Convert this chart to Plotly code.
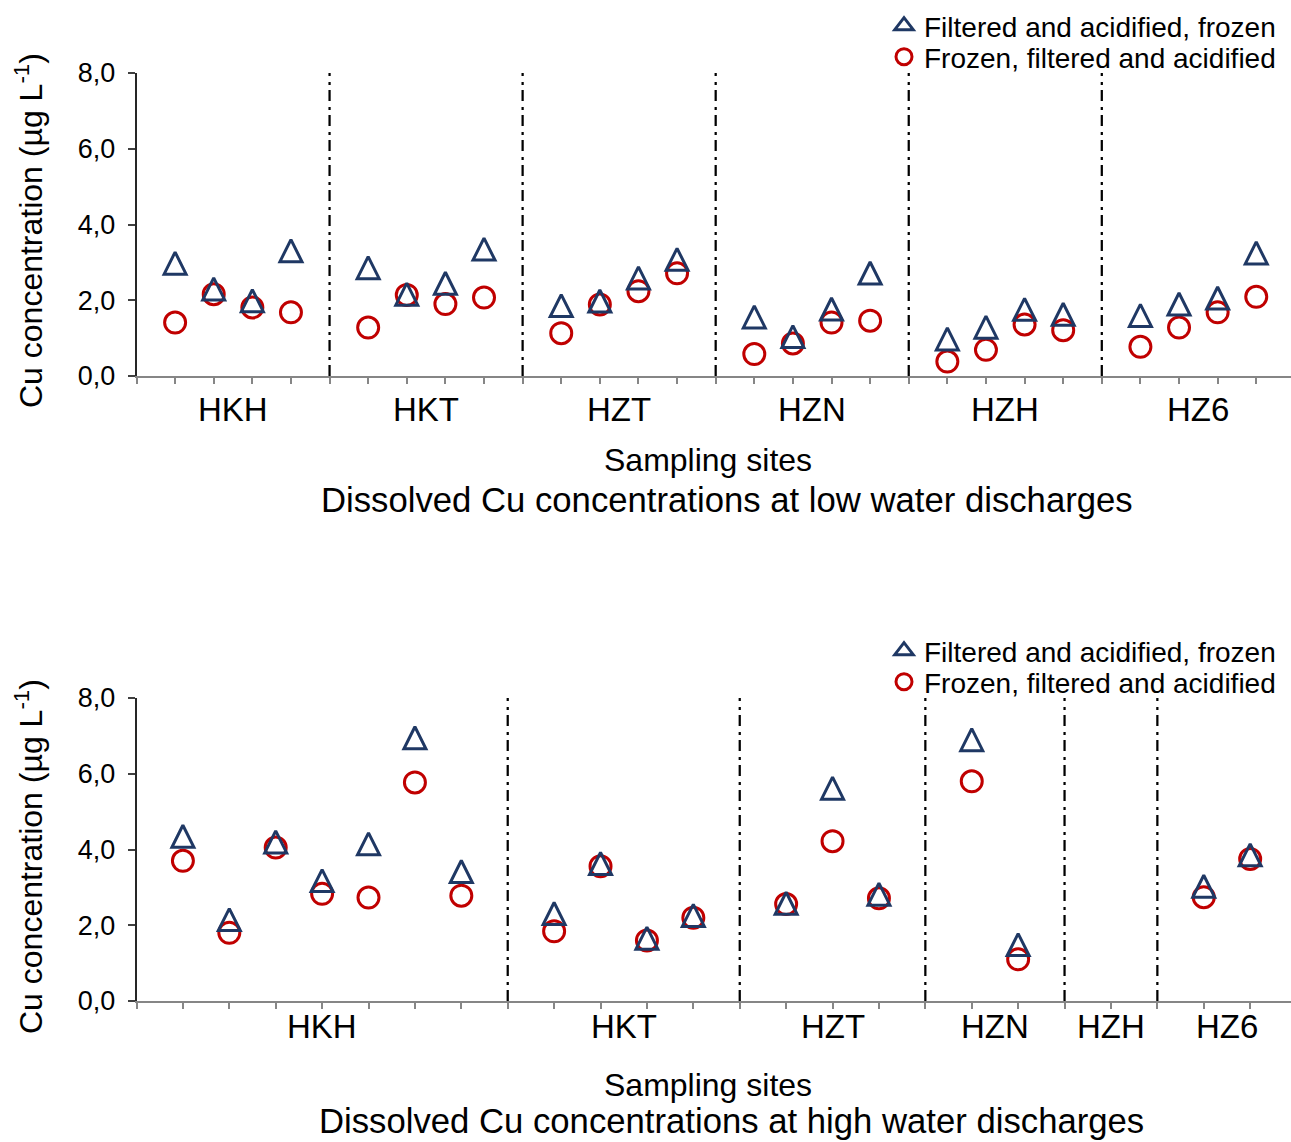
import plotly.graph_objects as go

# ---------------- data ----------------
sites = ["HKH", "HKT", "HZT", "HZN", "HZH", "HZ6"]
series_names = ["Filtered and acidified, frozen", "Frozen, filtered and acidified"]

# low water discharges (µg/L), per site
low_filtered_first = [[2.98, 2.30, 1.99, 3.31], [2.86, 2.16, 2.45, 3.35], [1.86, 1.98, 2.59, 3.08],
                      [1.56, 1.04, 1.77, 2.72], [0.98, 1.29, 1.76, 1.63], [1.60, 1.90, 2.06, 3.25]]
low_frozen_first = [[1.41, 2.16, 1.81, 1.68], [1.28, 2.14, 1.90, 2.07], [1.13, 1.89, 2.24, 2.71],
                    [0.58, 0.86, 1.41, 1.46], [0.38, 0.69, 1.36, 1.21], [0.77, 1.28, 1.68, 2.09]]

# high water discharges (µg/L), per site (HZH: one empty slot)
high_filtered_first = [[4.35, 2.15, 4.20, 3.18, 4.15, 6.95, 3.42], [2.31, 3.63, 1.66, 2.26],
                       [2.58, 5.62, 2.82], [6.90, 1.49], [None], [3.03, 3.86]]
high_frozen_first = [[3.70, 1.80, 4.05, 2.83, 2.73, 5.77, 2.78], [1.84, 3.56, 1.60, 2.20],
                     [2.56, 4.22, 2.71], [5.80, 1.10], [None], [2.74, 3.75]]

y_tickvals = [0, 2, 4, 6, 8]
y_ticktext = ["0,0", "2,0", "4,0", "6,0", "8,0"]

# ---------------- styling ----------------
W, H = 1291, 1142
FONT = "Liberation Sans, Arial, sans-serif"
NAVY = "#1F3864"
RED = "#C00000"
TRI_SIZE = 22
CIRC_SIZE = 21


def px_y(p):
    return 1 - p / H


def layout_groups(groups):
    xs, centers, dividers = [], [], []
    off = 0
    for g in groups:
        n = len(g)
        xs += [off + i + 1 for i in range(n)]
        centers.append(off + (n + 1) / 2)
        dividers.append(off + n + 1)
        off += n + 1
    return xs, centers, dividers[:-1], off


def flat(groups):
    return [v for g in groups for v in g]


fig = go.Figure()

panels = [
    dict(fa=low_filtered_first, ff=low_frozen_first, xa="x", ya="y", ya_tri="y3",
         top=73, bottom=376, xmax=29.9,
         lab_y=409, ss_y=460, title_y=500, title_x=727, ytitle_y=231,
         leg=("legend", "legend2"), leg_y=(27, 58),
         title="Dissolved Cu concentrations at low water discharges"),
    dict(fa=high_filtered_first, ff=high_frozen_first, xa="x2", ya="y2", ya_tri="y4",
         top=698, bottom=1001, xmax=24.88,
         lab_y=1026, ss_y=1085, title_y=1121, title_x=731, ytitle_y=857,
         leg=("legend3", "legend4"), leg_y=(652, 683),
         title="Dissolved Cu concentrations at high water discharges"),
]

X0 = 136.5 / W
shapes = []
annotations = []
layout_axes = {}

for k, p in enumerate(panels):
    xs, centers, dividers, _ = layout_groups(p["fa"])
    fa = flat(p["fa"])
    ff = flat(p["ff"])
    leg_a, leg_b = p["leg"]

    # triangles (drawn on an overlay axis so the triangle's centre sits on the value)
    fig.add_trace(go.Scatter(x=xs, y=fa, mode="markers", xaxis=p["xa"], yaxis=p["ya_tri"],
                             marker=dict(symbol="arrow-up-open", size=TRI_SIZE, color=NAVY,
                                         line=dict(color=NAVY, width=3)),
                             showlegend=False, hoverinfo="skip"))
    fig.add_trace(go.Scatter(x=xs, y=ff, mode="markers", xaxis=p["xa"], yaxis=p["ya"],
                             marker=dict(symbol="circle-open", size=CIRC_SIZE, color=RED,
                                         line=dict(color=RED, width=3)),
                             showlegend=False, hoverinfo="skip"))
    # legend entries
    fig.add_trace(go.Scatter(x=[None], y=[None], mode="markers", xaxis=p["xa"], yaxis=p["ya"],
                             name=series_names[0], legend=leg_a,
                             marker=dict(symbol="triangle-up-open", size=16, color=NAVY,
                                         line=dict(color=NAVY, width=3))))
    fig.add_trace(go.Scatter(x=[None], y=[None], mode="markers", xaxis=p["xa"], yaxis=p["ya"],
                             name=series_names[1], legend=leg_b,
                             marker=dict(symbol="circle-open", size=16, color=RED,
                                         line=dict(color=RED, width=3))))

    for d in dividers:
        shapes.append(dict(type="line", xref=p["xa"], yref=p["ya"], x0=d, x1=d, y0=0, y1=8,
                           line=dict(color="black", width=2.25, dash="11px,5px,3px,6px")))

    for s, c in zip(sites, centers):
        annotations.append(dict(text=s, x=c, xref=p["xa"], y=px_y(p["lab_y"]), yref="paper",
                                showarrow=False, xanchor="center", yanchor="middle",
                                font=dict(size=33, color="black", family=FONT)))
    annotations.append(dict(text="Sampling sites", x=708 / W, xref="paper", y=px_y(p["ss_y"]),
                            yref="paper", showarrow=False, xanchor="center", yanchor="middle",
                            font=dict(size=32, color="black", family=FONT)))
    annotations.append(dict(text=p["title"], x=p["title_x"] / W, xref="paper", y=px_y(p["title_y"]),
                            yref="paper", showarrow=False, xanchor="center", yanchor="middle",
                            font=dict(size=34.7, color="black", family=FONT)))
    annotations.append(dict(text="Cu concentration (µg L<sup>-1</sup>)", x=29 / W, xref="paper",
                            y=px_y(p["ytitle_y"]), yref="paper", showarrow=False, textangle=-90,
                            xanchor="center", yanchor="middle",
                            font=dict(size=32, color="black", family=FONT)))

    ydom = [px_y(p["bottom"]), px_y(p["top"])]
    plot_h = p["bottom"] - p["top"]
    off = (TRI_SIZE / 2) / (plot_h / 8)
    xname = "xaxis" if k == 0 else "xaxis2"
    yname = "yaxis" if k == 0 else "yaxis2"
    ytri = "yaxis3" if k == 0 else "yaxis4"
    layout_axes[xname] = dict(domain=[X0, 1], range=[0, p["xmax"]], anchor=p["ya"],
                              tickmode="linear", tick0=0, dtick=1, ticks="outside", ticklen=6,
                              tickwidth=1.5, tickcolor="#868686", showticklabels=False,
                              showline=True, linecolor="#868686", linewidth=2,
                              showgrid=False, zeroline=False, automargin=False)
    layout_axes[yname] = dict(domain=ydom, range=[0, 8], anchor=p["xa"],
                              tickmode="array", tickvals=y_tickvals, ticktext=y_ticktext,
                              ticks="outside", ticklen=7, tickwidth=1.5, tickcolor="#404040",
                              ticklabelstandoff=7,
                              tickfont=dict(size=27, color="black", family=FONT),
                              showline=True, linecolor="#262626", linewidth=1.5,
                              showgrid=False, zeroline=False, automargin=False)
    layout_axes[ytri] = dict(overlaying=p["ya"], range=[-off, 8 - off], visible=False,
                             anchor=p["xa"], automargin=False)

    for name, yy in zip((leg_a, leg_b), p["leg_y"]):
        layout_axes[name] = dict(x=884 / W, xanchor="left", y=px_y(yy - 26), yanchor="top",
                                 font=dict(size=28, color="black", family=FONT),
                                 bgcolor="rgba(0,0,0,0)", borderwidth=0, itemwidth=30)

fig.update_layout(
    template="none",
    width=W, height=H, autosize=False,
    margin=dict(l=0, r=0, t=0, b=0, pad=0, autoexpand=False),
    paper_bgcolor="white", plot_bgcolor="white",
    font=dict(family=FONT, color="black"),
    shapes=shapes, annotations=annotations,
    **layout_axes,
)

fig.write_html("out.html", config={"displayModeBar": False},
               post_script="document.body.style.margin='0';document.body.style.overflow='hidden';")
